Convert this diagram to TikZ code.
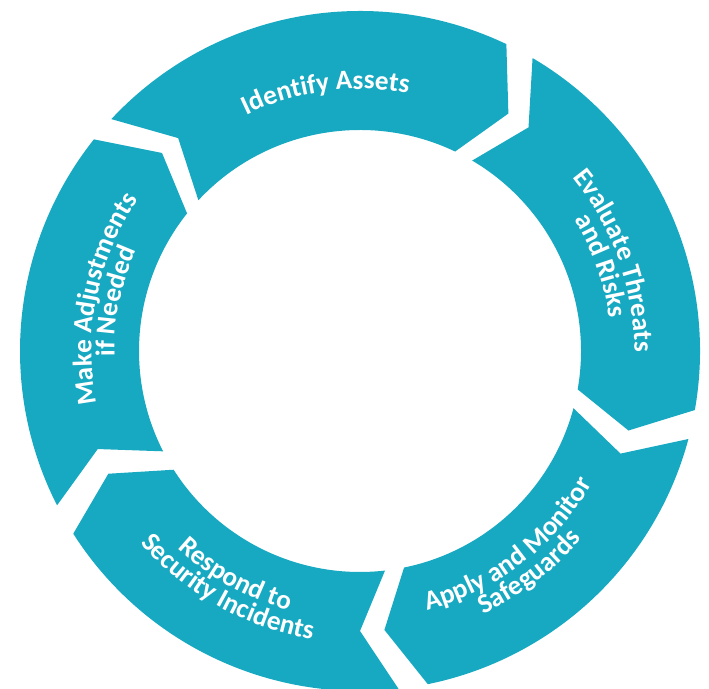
\documentclass[tikz,border=0pt]{standalone}
\usepackage{fontspec}
\setmainfont{Carlito}
\usetikzlibrary{decorations.text}
\definecolor{ringteal}{RGB}{23,169,193}
\newcommand\labelfont{\fontsize{15.5}{18}\selectfont\bfseries}

\tikzset{
  segfill/.style={fill=ringteal},
  arclabel/.style={decorate, decoration={text along path, text align=center,
      text color=white, text={|\labelfont|#1}}},
}

\begin{document}
\begin{tikzpicture}
    \useasboundingbox (0,0) rectangle (14.18,13.78);
    \begin{scope}[shift={(7.2,6.76)}]
        % Ring segments: tail angle / head angle
        \foreach \a/\b in {137/64.5, 59.5/-10, -15/-78.5, -83.5/-147.5, -153/-218.5}
            \fill[segfill] (\a:6.8) -- ({\a-6.5}:5.6) -- (\a:4.42)
                arc[start angle=\a, end angle=\b, radius=4.42]
                -- ({\b-6.5}:5.6) -- (\b:6.8)
                arc[start angle=\b, end angle=\a, radius=6.8] -- cycle;

        % Top
        \path[arclabel={Identify Assets}] (137.6:5.24) arc[start angle=137.6, end angle=57.6, radius=5.24];

        % Right
        \path[arclabel={Evaluate Threats}] (59.5:5.49) arc[start angle=59.5, end angle=-20.5, radius=5.49];
        \path[arclabel={and Risks}] (59.5:5.03) arc[start angle=59.5, end angle=-20.5, radius=5.03];

        % Bottom right
        \path[arclabel={Apply and Monitor}] (-92.6:5.35) arc[start angle=-92.6, end angle=-12.6, radius=5.35];
        \path[arclabel={Safeguards}] (-92.6:5.81) arc[start angle=-92.6, end angle=-12.6, radius=5.81];

        % Bottom left
        \path[arclabel={Respond to}] (-159.1:5.38) arc[start angle=-159.1, end angle=-79.1, radius=5.38];
        \path[arclabel={Security Incidents}] (-159.1:5.84) arc[start angle=-159.1, end angle=-79.1, radius=5.84];

        % Left
        \path[arclabel={Make Adjustments}] (208.5:5.37) arc[start angle=208.5, end angle=128.5, radius=5.37];
        \path[arclabel={if Needed}] (208.5:4.91) arc[start angle=208.5, end angle=128.5, radius=4.91];
    \end{scope}
\end{tikzpicture}
\end{document}
